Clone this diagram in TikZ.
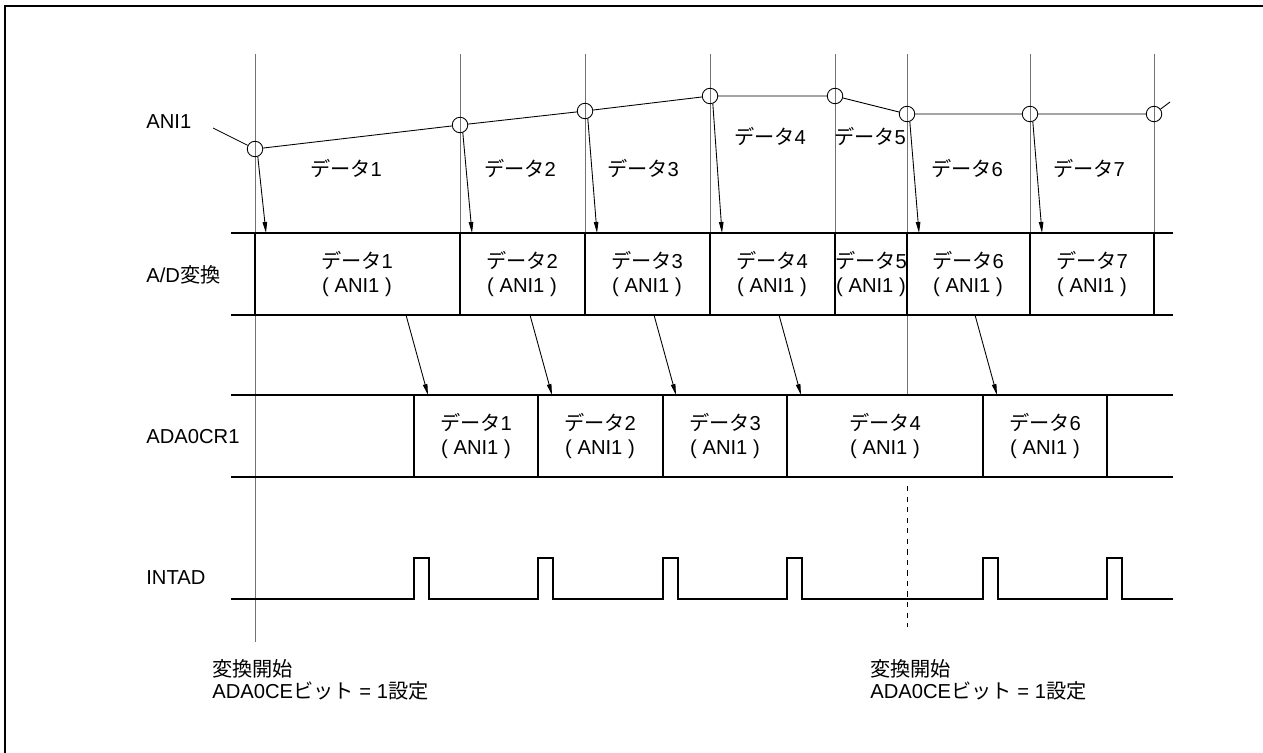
\documentclass[tikz,border=0pt]{standalone}
\usepackage{fontspec}
\setmainfont{Liberation Sans}
\newfontfamily\jp{Noto Sans CJK JP}
\usetikzlibrary{arrows.meta}
\newcommand\dat[1]{{\jp データ}#1}
\newcommand\dcell[1]{\dat{#1}\\( ANI1 )}

\begin{document}
\begin{tikzpicture}[
            x=0.02cm, y=-0.02cm,
            every node/.style={font=\fontsize{11.5}{14.2}\selectfont},
            guide/.style={draw=black!55, line width=0.5pt},
            bus/.style={line width=1.3pt},
            wave/.style={line width=1.1pt},
            sig/.style={line width=0.5pt},
            sample/.style={circle, draw, line width=0.5pt, minimum size=0.31cm, inner sep=0pt},
            arrow/.style={-{Triangle[length=0.22cm, width=0.09cm]}, line width=0.5pt},
            cell/.style={align=center, inner sep=0pt},
            signame/.style={anchor=west, inner sep=0pt},
            note/.style={anchor=west, align=left, inner sep=0pt, font=\fontsize{11.5}{12.6}\selectfont}
        ]
            \useasboundingbox (0,0) rectangle (1263,753);
            \draw[line width=1.1pt] (4.7,753) -- (4.7,6.3) -- (1263,6.3);

            % signal names
            \node[signame] (ani) at (146,122) {ANI1};
            \node[signame] (adc) at (146,275) {A/D{\jp 変換}};
            \node[signame] (reg) at (146,437) {ADA0CR1};
            \node[signame] (int) at (146,578) {INTAD};

            % sampling guides
            \draw[guide] (255,54) -- (255,642);
            \draw[guide] (460,54) -- (460,233);
            \draw[guide] (585,54) -- (585,233);
            \draw[guide] (710,54) -- (710,233);
            \draw[guide] (835,54) -- (835,233);
            \draw[guide] (907,54) -- (907,395);
            \draw[guide] (1030,54) -- (1030,233);
            \draw[guide] (1154,54) -- (1154,233);
            \draw[guide, draw=black, dashed] (907,486) -- (907,627);

            % analog input
            \node[sample] (s1) at (255,149) {};
            \node[sample] (s2) at (460,125) {};
            \node[sample] (s3) at (585,111) {};
            \node[sample] (s4) at (710,96) {};
            \node[sample] (s5) at (835,96) {};
            \node[sample] (s6) at (907,114) {};
            \node[sample] (s7) at (1030,114) {};
            \node[sample] (s8) at (1154,114) {};
            \coordinate (in) at (213,128);
            \coordinate (out) at (1170,102);
            \draw[sig] (in) -- (s1) -- (s2) -- (s3) -- (s4) -- (s5) -- (s6) -- (s7) -- (s8) -- (out);

            \node (v1) at (346,168) {\dat1};
            \node (v2) at (520,168) {\dat2};
            \node (v3) at (643,168) {\dat3};
            \node (v4) at (770,136) {\dat4};
            \node (v5) at (870,136) {\dat5};
            \node (v6) at (967,168) {\dat6};
            \node (v7) at (1089,168) {\dat7};

            % A/D conversion row
            \draw[bus] (231,233) -- (1173,233);
            \draw[bus] (231,315) -- (1173,315);
            \draw[bus] (255,233) -- (255,315);
            \draw[bus] (460,233) -- (460,315);
            \draw[bus] (585,233) -- (585,315);
            \draw[bus] (710,233) -- (710,315);
            \draw[bus] (835,233) -- (835,315);
            \draw[bus] (907,233) -- (907,315);
            \draw[bus] (1030,233) -- (1030,315);
            \draw[bus] (1154,233) -- (1154,315);

            \node[cell] (ad1) at (357,274) {\dcell1};
            \node[cell] (ad2) at (522,274) {\dcell2};
            \node[cell] (ad3) at (647,274) {\dcell3};
            \node[cell] (ad4) at (772,274) {\dcell4};
            \node[cell] (ad5) at (871,274) {\dcell5};
            \node[cell] (ad6) at (968,274) {\dcell6};
            \node[cell] (ad7) at (1092,274) {\dcell7};

            \coordinate (t1) at (266,233);
            \coordinate (t2) at (472,233);
            \coordinate (t3) at (597,233);
            \coordinate (t4) at (722,233);
            \coordinate (t6) at (919,233);
            \coordinate (t7) at (1042,233);
            \draw[arrow] (s1.-70) -- (t1);
            \draw[arrow] (s2.-70) -- (t2);
            \draw[arrow] (s3.-70) -- (t3);
            \draw[arrow] (s4.-70) -- (t4);
            \draw[arrow] (s6.-70) -- (t6);
            \draw[arrow] (s7.-70) -- (t7);

            % result register row
            \draw[bus] (231,395) -- (1173,395);
            \draw[bus] (231,477) -- (1173,477);
            \draw[bus] (414,395) -- (414,477);
            \draw[bus] (538,395) -- (538,477);
            \draw[bus] (663,395) -- (663,477);
            \draw[bus] (787,395) -- (787,477);
            \draw[bus] (983,395) -- (983,477);
            \draw[bus] (1107,395) -- (1107,477);

            \node[cell] (cr1) at (476,436) {\dcell1};
            \node[cell] (cr2) at (600,436) {\dcell2};
            \node[cell] (cr3) at (725,436) {\dcell3};
            \node[cell] (cr4) at (885,436) {\dcell4};
            \node[cell] (cr6) at (1045,436) {\dcell6};

            \coordinate (f1) at (406,315);
            \coordinate (f2) at (530,315);
            \coordinate (f3) at (654,315);
            \coordinate (f4) at (779,315);
            \coordinate (f6) at (975,315);
            \coordinate (w1) at (428,395);
            \coordinate (w2) at (552,395);
            \coordinate (w3) at (676,395);
            \coordinate (w4) at (801,395);
            \coordinate (w6) at (997,395);
            \draw[arrow] (f1) -- (w1);
            \draw[arrow] (f2) -- (w2);
            \draw[arrow] (f3) -- (w3);
            \draw[arrow] (f4) -- (w4);
            \draw[arrow] (f6) -- (w6);

            % interrupt
            \draw[wave] (231,599) -- (414,599) -- (414,558) -- (429,558) -- (429,599)
                -- (538,599) -- (538,558) -- (553,558) -- (553,599)
                -- (663,599) -- (663,558) -- (678,558) -- (678,599)
                -- (787,599) -- (787,558) -- (802,558) -- (802,599)
                -- (983,599) -- (983,558) -- (998,558) -- (998,599)
                -- (1107,599) -- (1107,558) -- (1122,558) -- (1122,599) -- (1173,599);

            % start notes
            \node[note] (go1) at (212,680) {{\jp 変換開始}\\ADA0CE{\jp ビット} = 1{\jp 設定}};
            \node[note] (go2) at (870,680) {{\jp 変換開始}\\ADA0CE{\jp ビット} = 1{\jp 設定}};
        \end{tikzpicture}
\end{document}
